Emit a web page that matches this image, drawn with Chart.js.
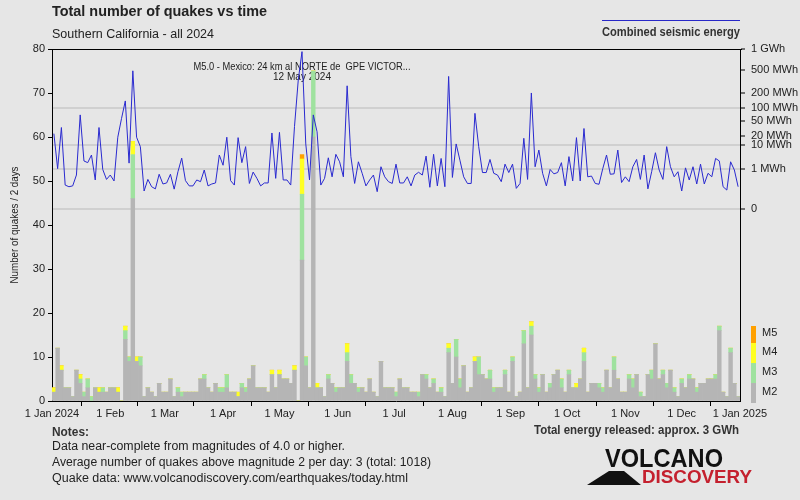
<!DOCTYPE html>
<html lang="en">
<head>
<meta charset="UTF-8">
<title>Total number of quakes vs time</title>
<script src="https://cdn.jsdelivr.net/npm/chart.js@4"></script>
<style>
  html, body { margin: 0; padding: 0; background: #e6e6e6; }
  canvas { display: block; }
</style>
</head>
<body>
<canvas id="quakes" width="800" height="500"></canvas>
<script>
// x axis: days since 1 Jan 2024, one bin per 2 days (183 bins)
const MONTH_DAYS = [0, 31, 60, 91, 121, 152, 182, 213, 244, 274, 305, 335, 366];
const MONTH_LABELS = ['1 Jan 2024', '1 Feb', '1 Mar', '1 Apr', '1 May', '1 Jun', '1 Jul',
                      '1 Aug', '1 Sep', '1 Oct', '1 Nov', '1 Dec', '1 Jan 2025'];

// quakes per 2 days, by magnitude class
const M2 = [
  2,12,7,3,3,1,7,4,1,3,   0,3,2,2,2,3,3,2,0,14,   9,46,9,8,1,3,2,1,4,2,
  2,5,1,2,1,2,2,2,2,5,    5,3,2,4,2,2,3,2,2,1,    3,2,5,8,3,3,3,2,6,3,
  6,5,5,4,7,0,32,8,3,60,  3,3,1,5,4,2,3,3,9,4,    4,2,3,2,5,2,1,9,3,3,
  3,1,5,3,3,2,2,1,6,5,    3,4,2,2,1,11,4,10,3,8,  2,3,9,6,6,5,5,2,3,3,
  6,2,9,1,2,13,3,15,5,2,  6,2,3,6,7,3,2,6,3,3,    5,9,2,4,4,3,2,7,3,7,
  5,2,2,5,3,6,1,1,6,5,    13,5,6,3,7,2,1,4,3,5,   5,2,4,4,5,5,5,16,2,1,
  11,4,1
];
const M3 = [
  0,0,0,0,0,0,0,1,1,2,    1,0,0,1,0,0,0,0,0,2,    1,10,0,2,0,0,0,0,0,0,
  0,0,0,1,1,0,0,0,0,0,    1,0,0,0,1,1,3,0,0,0,    1,1,0,0,0,0,0,0,0,0,
  0,0,0,0,0,0,15,2,0,15,  0,0,0,1,0,1,0,0,2,2,    0,1,0,0,0,0,0,0,0,0,
  0,1,0,0,0,0,0,1,0,1,    0,1,0,1,0,1,0,4,2,0,    0,0,0,4,0,0,2,1,0,0,
  1,0,1,0,0,3,0,2,1,1,    0,0,1,0,0,2,0,1,0,0,    0,2,0,0,0,1,1,0,0,3,
  0,0,0,1,2,0,1,0,0,2,    0,0,1,1,0,1,0,1,0,1,    0,1,0,0,0,0,1,1,0,0,
  1,0,0
];
const M4 = [
  1,0,1,0,0,0,0,1,0,0,    0,0,1,0,0,0,0,1,0,1,    0,3,1,0,0,0,0,0,0,0,
  0,0,0,0,0,0,0,0,0,0,    0,0,0,0,0,0,0,0,0,1,    0,0,0,0,0,0,0,0,1,0,
  1,0,0,0,1,0,8,0,0,0,    1,0,0,0,0,0,0,0,2,0,    0,0,0,0,0,0,0,0,0,0,
  0,0,0,0,0,0,0,0,0,0,    0,0,0,0,0,1,0,0,0,0,    0,0,1,0,0,0,0,0,0,0,
  0,0,0,0,0,0,0,1,0,0,    0,0,0,0,0,0,0,0,0,1,    0,1,0,0,0,0,0,0,0,0,
  0,0,0,0,0,0,0,0,0,0,    0,0,0,0,0,0,0,0,0,0,    0,0,0,0,0,0,0,0,0,0,
  0,0,0
];
const M5 = [
  0,0,0,0,0,0,0,0,0,0,    0,0,0,0,0,0,0,0,0,0,    0,0,0,0,0,0,0,0,0,0,
  0,0,0,0,0,0,0,0,0,0,    0,0,0,0,0,0,0,0,0,0,    0,0,0,0,0,0,0,0,0,0,
  0,0,0,0,0,0,1,0,0,0,    0,0,0,0,0,0,0,0,0,0,    0,0,0,0,0,0,0,0,0,0,
  0,0,0,0,0,0,0,0,0,0,    0,0,0,0,0,0,0,0,0,0,    0,0,0,0,0,0,0,0,0,0,
  0,0,0,0,0,0,0,0,0,0,    0,0,0,0,0,0,0,0,0,0,    0,0,0,0,0,0,0,0,0,0,
  0,0,0,0,0,0,0,0,0,0,    0,0,0,0,0,0,0,0,0,0,    0,0,0,0,0,0,0,0,0,0,
  0,0,0
];

// combined seismic energy per 2 days, MWh
const ENERGY_MWH = [
  23,1.0,34,0.072,0.05,0.06,0.42,70,2.4,2.0,          4.3,0.19,34,0.9,0.21,0.42,0.16,18,58,140,
  1.9,480,18,8.9,0.017,0.21,0.05,0.03,0.47,0.09,      0.11,0.47,0.028,0.67,3.2,0.17,0.06,0.06,0.19,0.14,
  0.84,0.06,0.09,0.11,4.3,1.5,18,0.17,0.072,17.5,     2.0,8.9,0.1,0.64,0.25,0.06,0.11,0.11,24,0.25,
  25,0.19,0.19,0.072,36,340,920,11,0.19,70,           26,0.072,0.25,3.3,0.32,4.6,2.2,0.32,270,3.7,
  0.1,2.2,0.54,0.06,0.19,0.42,0.014,1.26,0.32,0.14,   0.1,1.7,0.11,0.11,0.32,0.06,0.42,0.62,0.42,3.9,
  0.044,4.6,0.06,3.1,0.05,390,0.29,11,2.6,0.32,       0.1,0.1,76,8.9,0.6,0.6,2.8,0.54,0.42,0.14,
  1.7,0.6,1.7,0.034,0.1,16.7,0.21,200,1.26,6.7,       0.54,0.06,0.9,0.5,0.6,2.0,0.06,3.7,0.16,17.5,
  0.16,32,0.32,0.36,0.1,0.085,1.0,4.3,0.47,0.5,       6.7,0.12,0.32,0.14,1.26,2.8,0.21,4.3,0.03,0.67,
  5.3,0.84,0.21,8.9,1.26,0.32,0.67,0.017,1.1,0.19,    1.26,0.09,1.7,0.09,0.54,0.32,3.1,2.4,0.05,0.022,
  2.2,0.84,0.05
];

// right axis (energy, fifth-root scale)
const ENERGY_TICKS = [0, 1, 10, 20, 50, 100, 200, 500, 1000];
const ENERGY_LABELS = ['0', '1 MWh', '10 MWh', '20 MWh', '50 MWh', '100 MWh', '200 MWh', '500 MWh', '1 GWh'];
const ENERGY_GRID = [0, 1, 10, 100];

const BG = '#e6e6e6';
const TXT = '#222222';
const FONT = '"Liberation Sans", "DejaVu Sans", sans-serif';
const COLORS = { M2: '#b5b5b5', M3: '#9fe29f', M4: '#ffff22', M5: '#ffa000' };

const root5 = v => Math.pow(v, 0.2);
const binX = i => 2 * i + 1;

function fitText(ctx, s, x, y, font, color, width, align) {
  ctx.save();
  ctx.font = font;
  ctx.fillStyle = color;
  ctx.textBaseline = 'middle';
  ctx.textAlign = 'left';
  const w = ctx.measureText(s).width;
  const left = align === 'right' ? x - width : align === 'center' ? x - width / 2 : x;
  ctx.translate(left, y);
  ctx.scale(width / w, 1);
  ctx.fillText(s, 0, 0);
  ctx.restore();
}

const decorations = {
  id: 'decorations',
  beforeDraw(chart) {
    const ctx = chart.ctx;
    ctx.save();
    ctx.fillStyle = BG;
    ctx.fillRect(0, 0, chart.width, chart.height);
    ctx.restore();
  },
  beforeDatasetsDraw(chart) {
    const ctx = chart.ctx;
    const cx = chart.scales.x.getPixelForValue(binX(66));
    fitText(ctx, 'M5.0 - Mexico: 24 km al NORTE de  GPE VICTOR...', cx, 67, '11px ' + FONT, TXT, 217, 'center');
    fitText(ctx, '12 May 2024', cx, 77, '11px ' + FONT, TXT, 58, 'center');
  },
  afterDraw(chart) {
    const ctx = chart.ctx;
    const a = chart.chartArea;
    ctx.save();

    // frame top line
    ctx.strokeStyle = '#000';
    ctx.lineWidth = 1;
    ctx.beginPath();
    ctx.moveTo(a.left - 4, a.top + 0.5);
    ctx.lineTo(a.right + 2, a.top + 0.5);
    ctx.stroke();

    // titles
    fitText(ctx, 'Total number of quakes vs time', 52, 12, 'bold 15px ' + FONT, TXT, 215);
    fitText(ctx, 'Southern California - all 2024', 52, 35, '12px ' + FONT, TXT, 162);

    // energy legend
    ctx.strokeStyle = '#2828c8';
    ctx.beginPath();
    ctx.moveTo(602, 20.5);
    ctx.lineTo(740, 20.5);
    ctx.stroke();
    fitText(ctx, 'Combined seismic energy', 740, 33, 'bold 12px ' + FONT, '#333', 138, 'right');

    // left axis title
    ctx.save();
    ctx.translate(15, 225);
    ctx.rotate(-Math.PI / 2);
    fitText(ctx, 'Number of quakes / 2 days', 0, 0, '11px ' + FONT, TXT, 117, 'center');
    ctx.restore();

    // magnitude legend
    const leg = [['M5', COLORS.M5, 326, 343], ['M4', COLORS.M4, 343, 363],
                 ['M3', COLORS.M3, 363, 383], ['M2', COLORS.M2, 383, 403]];
    leg.forEach(([name, col, y0, y1]) => {
      ctx.fillStyle = col;
      ctx.fillRect(751, y0, 5, y1 - y0);
      ctx.font = '11px ' + FONT;
      ctx.fillStyle = TXT;
      ctx.textBaseline = 'middle';
      ctx.textAlign = 'left';
      ctx.fillText(name, 762, (name === 'M5' ? 333 : y0 + 9));
    });

    // notes
    fitText(ctx, 'Notes:', 52, 432, 'bold 13px ' + FONT, '#333', 37);
    fitText(ctx, 'Data near-complete from magnitudes of 4.0 or higher.', 52, 447, '12px ' + FONT, TXT, 293);
    fitText(ctx, 'Average number of quakes above magnitude 2 per day: 3 (total: 1018)', 52, 463, '12px ' + FONT, TXT, 379);
    fitText(ctx, 'Quake data: www.volcanodiscovery.com/earthquakes/today.html', 52, 479, '12px ' + FONT, TXT, 356);
    fitText(ctx, 'Total energy released: approx. 3 GWh', 739, 431, 'bold 12px ' + FONT, '#333', 205, 'right');

    // logo
    ctx.fillStyle = '#111';
    ctx.beginPath();
    ctx.moveTo(587, 485);
    ctx.lineTo(609, 471);
    ctx.lineTo(624, 471);
    ctx.lineTo(641, 485);
    ctx.closePath();
    ctx.fill();
    fitText(ctx, 'VOLCANO', 605, 460, 'bold 25px ' + FONT, '#111', 118);
    fitText(ctx, 'DISCOVERY', 642, 478, 'bold 19px ' + FONT, '#c4202e', 110);

    ctx.restore();
  }
};

const barSet = (label, arr, color) => ({
  type: 'bar',
  label,
  data: arr.map((v, i) => ({ x: binX(i), y: v })),
  backgroundColor: color,
  borderWidth: 0,
  barPercentage: 1,
  categoryPercentage: 1,
  yAxisID: 'y',
  order: 1
});

new Chart(document.getElementById('quakes'), {
  data: {
    datasets: [
      barSet('M2', M2, COLORS.M2),
      barSet('M3', M3, COLORS.M3),
      barSet('M4', M4, COLORS.M4),
      barSet('M5', M5, COLORS.M5),
      {
        type: 'line',
        label: 'Combined seismic energy',
        data: ENERGY_MWH.map((v, i) => ({ x: binX(i), y: root5(v) })),
        borderColor: '#2a2ad0',
        borderWidth: 1,
        pointRadius: 0,
        tension: 0,
        yAxisID: 'y2',
        order: 0
      }
    ]
  },
  options: {
    responsive: false,
    animation: false,
    layout: { padding: { left: 0, right: 0, top: 49, bottom: 79 } },
    plugins: { legend: { display: false }, tooltip: { enabled: false }, title: { display: false } },
    scales: {
      x: {
        type: 'linear',
        min: 0,
        max: 366,
        stacked: true,
        offset: false,
        grid: { drawOnChartArea: false, tickLength: 5, tickColor: '#000' },
        border: { color: '#000' },
        afterBuildTicks: s => { s.ticks = MONTH_DAYS.map(v => ({ value: v })); },
        afterFit: s => { s.height = 20; },
        ticks: {
          autoSkip: false, maxRotation: 0, padding: 1, color: TXT,
          font: { family: FONT, size: 11 },
          callback: (v, i) => MONTH_LABELS[i]
        }
      },
      y: {
        position: 'left',
        stacked: true,
        min: 0,
        max: 80,
        grid: { drawOnChartArea: false, tickLength: 4, tickColor: '#000' },
        border: { color: '#000' },
        afterFit: s => { s.width = 52; },
        ticks: { stepSize: 10, padding: 3, color: TXT, font: { family: FONT, size: 11 } }
      },
      y2: {
        position: 'right',
        min: root5(ENERGY_TICKS[0]) - 4.79,
        max: root5(ENERGY_TICKS[ENERGY_TICKS.length - 1]),
        grid: {
          drawOnChartArea: true,
          tickLength: 5,
          tickColor: '#000',
          tickWidth: 1,
          lineWidth: 2,
          color: c => ENERGY_GRID.includes(ENERGY_TICKS[c.index]) ? '#d0d0d0' : 'rgba(0,0,0,0)'
        },
        border: { color: '#000' },
        afterBuildTicks: s => { s.ticks = ENERGY_TICKS.map(v => ({ value: root5(v) })); },
        afterFit: s => { s.width = 60; },
        ticks: {
          padding: 6, color: TXT, font: { family: FONT, size: 11 },
          callback: (v, i) => ENERGY_LABELS[i]
        }
      }
    }
  },
  plugins: [decorations]
});
</script>
</body>
</html>
